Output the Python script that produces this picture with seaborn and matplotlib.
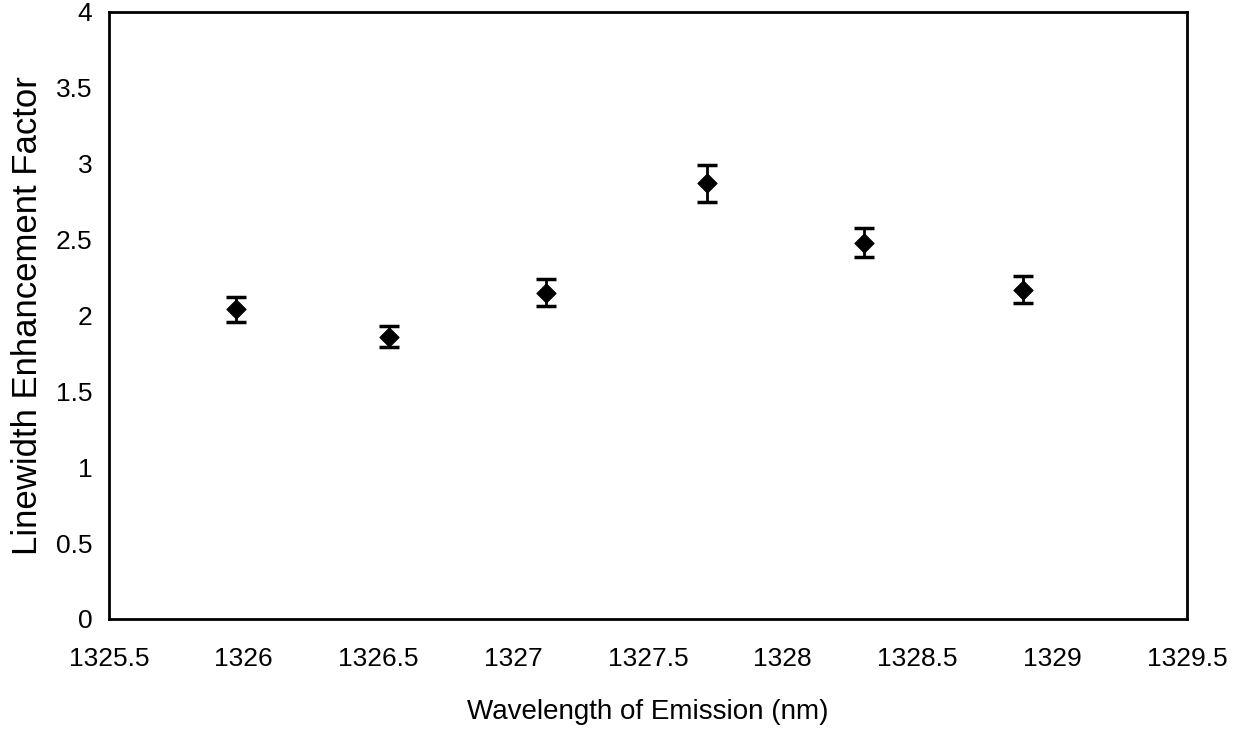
import matplotlib
matplotlib.use("Agg")
import matplotlib.pyplot as plt
import seaborn as sns
import pandas as pd

wavelength = [1325.97, 1326.54, 1327.12, 1327.72, 1328.30, 1328.89]
alpha_factor = [2.04, 1.86, 2.15, 2.87, 2.48, 2.17]
alpha_err = [0.085, 0.07, 0.09, 0.12, 0.095, 0.09]
x_ticks = [1325.5, 1326, 1326.5, 1327, 1327.5, 1328, 1328.5, 1329, 1329.5]
x_tick_labels = ["1325.5", "1326", "1326.5", "1327", "1327.5", "1328", "1328.5", "1329", "1329.5"]
y_ticks = [0, 0.5, 1, 1.5, 2, 2.5, 3, 3.5, 4]
y_tick_labels = ["0", "0.5", "1", "1.5", "2", "2.5", "3", "3.5", "4"]

sns.set_theme(style="white")
plt.rcParams['font.family'] = ['Liberation Sans', 'DejaVu Sans']

df = pd.DataFrame({"wl": wavelength, "a": alpha_factor, "err": alpha_err})

fig = plt.figure(figsize=(12.41, 7.34), dpi=100)
ax = fig.add_axes([0.0878, 0.1567, 0.8687, 0.827])

ax.errorbar(df["wl"], df["a"], yerr=df["err"], fmt="none", ecolor="black",
            elinewidth=2, capsize=7, capthick=2.5, zorder=2)
sns.scatterplot(data=df, x="wl", y="a", marker="D", s=95, color="black",
                edgecolor="black", ax=ax, zorder=3)

ax.set_xlim(1325.5, 1329.5)
ax.set_ylim(0, 4)
ax.set_xticks(x_ticks)
ax.set_xticklabels(x_tick_labels, fontsize=19)
ax.set_yticks(y_ticks)
ax.set_yticklabels(y_tick_labels, fontsize=19)
ax.tick_params(axis="both", direction="in", length=6, width=1.5, colors="black")
ax.tick_params(axis="y", pad=12)
ax.tick_params(axis="x", pad=20)
for sp in ax.spines.values():
    sp.set_color("black")
    sp.set_linewidth(2)
ax.set_xlabel("Wavelength of Emission (nm)", fontsize=20,
              labelpad=20, color="black")
ax.set_ylabel("Linewidth Enhancement Factor", fontsize=25, color="black")
ax.yaxis.set_label_coords(-0.060, 0.5)

fig.savefig("out.png", dpi=100, facecolor="white")
